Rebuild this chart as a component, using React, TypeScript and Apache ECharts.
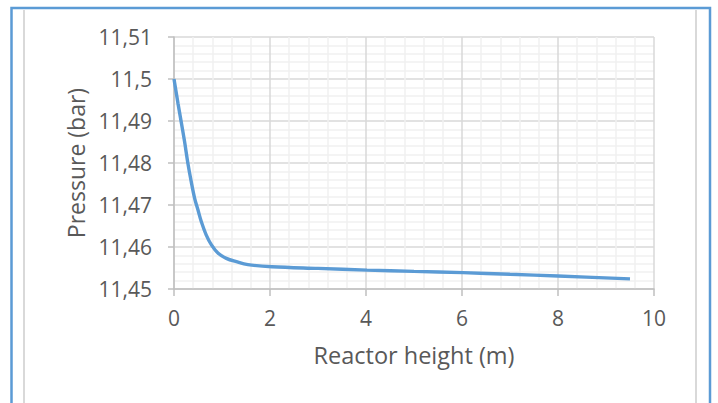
import React, { useEffect, useRef } from "react";
import * as echarts from "echarts";

const heights = [0, 0.083, 0.15, 0.22, 0.29, 0.36, 0.43, 0.5, 0.57, 0.67, 0.78, 0.92, 1.09, 1.3, 1.54, 2.04, 3, 4.02, 5, 6.02, 7, 8.0, 9.5];
const pressures = [11.5, 11.4942, 11.4898, 11.4851, 11.4799, 11.4755, 11.4716, 11.4688, 11.466, 11.4629, 11.4605, 11.4585, 11.4573, 11.4565, 11.4558, 11.4553, 11.4549, 11.4545, 11.4542, 11.4539, 11.4535, 11.4531, 11.4524];
const xTitle = "Reactor height (m)";
const yTitle = "Pressure (bar)";

const FONT = "Open Sans";
const TEXT = "#595959";

export default function App() {
  const ref = useRef<HTMLDivElement>(null);
  useEffect(() => {
    const chart = echarts.init(ref.current!, null, { renderer: "svg" });
    chart.setOption({
      animation: false,
      backgroundColor: "#ffffff",
      textStyle: { fontFamily: FONT },
      grid: { left: 174, right: 64, top: 37, bottom: 114 },
      graphic: [
        { type: "rect", shape: { x: 11.5, y: 8, width: 698.5, height: 420 }, style: { fill: "none", stroke: "#5b9bd5", lineWidth: 2.5 } },
        { type: "line", shape: { x1: 24, y1: 10, x2: 24, y2: 403 }, style: { stroke: "#d9d9d9", lineWidth: 2 } },
        { type: "line", shape: { x1: 696, y1: 10, x2: 696, y2: 403 }, style: { stroke: "#d9d9d9", lineWidth: 2 } },
      ],
      xAxis: {
        type: "value",
        min: 0,
        max: 10,
        interval: 2,
        name: xTitle,
        nameLocation: "middle",
        nameGap: 54,
        nameTextStyle: { color: TEXT, fontSize: 23.5, fontFamily: FONT },
        axisLine: { show: true, lineStyle: { color: "#bfbfbf", width: 1.5 } },
        axisTick: { show: true, length: 7, lineStyle: { color: "#bfbfbf", width: 1.5 } },
        axisLabel: { color: TEXT, fontSize: 21, margin: 18, fontFamily: FONT },
        splitLine: { show: true, lineStyle: { color: "#d9d9d9", width: 1.5 } },
        minorTick: { show: false, splitNumber: 5 },
        minorSplitLine: { show: true, lineStyle: { color: "#f0f0f0", width: 1.5 } },
      },
      yAxis: {
        type: "value",
        min: 11.45,
        max: 11.51,
        interval: 0.01,
        name: yTitle,
        nameLocation: "middle",
        nameGap: 85,
        nameTextStyle: { color: TEXT, fontSize: 23, fontFamily: FONT },
        axisLine: { show: true, lineStyle: { color: "#bfbfbf", width: 1.5 } },
        axisTick: { show: true, length: 6, lineStyle: { color: "#bfbfbf", width: 1.5 } },
        axisLabel: {
          color: TEXT,
          fontSize: 21,
          margin: 22,
          fontFamily: FONT,
          formatter: (v: number) => String(+v.toFixed(4)).replace(".", ","),
        },
        splitLine: { show: true, lineStyle: { color: "#d9d9d9", width: 1.5 } },
        minorTick: { show: false, splitNumber: 5 },
        minorSplitLine: { show: true, lineStyle: { color: "#f0f0f0", width: 1.5 } },
      },
      series: [
        {
          type: "line",
          data: heights.map((h, i) => [h, pressures[i]]),
          showSymbol: false,
          smooth: 0.35,
          lineStyle: { color: "#5b9bd5", width: 3.4 },
        },
      ],
    });
    return () => chart.dispose();
  }, []);
  return (
    <div
      ref={ref}
      style={{ position: "fixed", left: 0, top: 0, width: 718, height: 403 }}
    />
  );
}
